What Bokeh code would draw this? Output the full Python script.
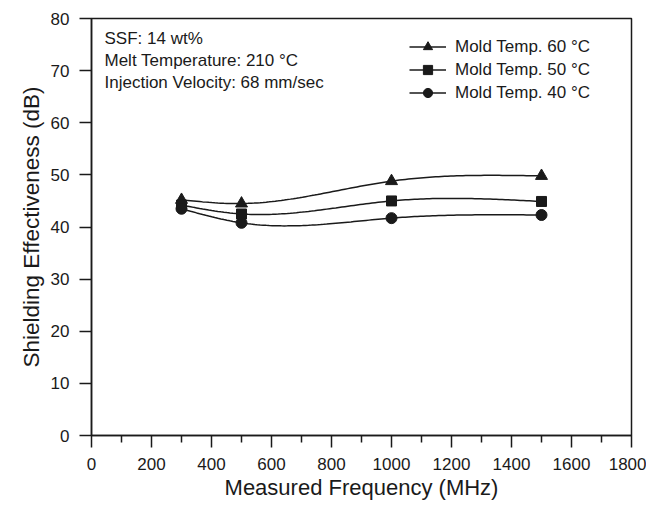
import numpy as np
from bokeh.plotting import figure
from bokeh.models import Label, Legend, LegendItem, FixedTicker, Range1d
from bokeh.embed import file_html
from bokeh.resources import INLINE

freq = [300, 500, 1000, 1500]
se_60 = [45.2, 44.5, 48.8, 49.8]
se_50 = [44.2, 42.5, 45.0, 44.9]
se_40 = [43.5, 40.8, 41.7, 42.3]
series_labels = ["Mold Temp. 60 °C", "Mold Temp. 50 °C", "Mold Temp. 40 °C"]
x_ticks = [0, 200, 400, 600, 800, 1000, 1200, 1400, 1600, 1800]
y_ticks = [0, 10, 20, 30, 40, 50, 60, 70, 80]
notes = ["SSF: 14 wt%", "Melt Temperature: 210 °C", "Injection Velocity: 68 mm/sec"]

FONT = "Liberation Sans"
INK = "#1a1a1a"


def natural_spline(x, y, n=120):
    x = np.asarray(x, float)
    y = np.asarray(y, float)
    k = len(x)
    h = np.diff(x)
    A = np.zeros((k, k))
    r = np.zeros(k)
    A[0, 0] = 1
    A[-1, -1] = 1
    for i in range(1, k - 1):
        A[i, i - 1] = h[i - 1]
        A[i, i] = 2 * (h[i - 1] + h[i])
        A[i, i + 1] = h[i]
        r[i] = 6 * ((y[i + 1] - y[i]) / h[i] - (y[i] - y[i - 1]) / h[i - 1])
    M = np.linalg.solve(A, r)
    xs = np.linspace(x[0], x[-1], n)
    ys = np.empty_like(xs)
    for j, xv in enumerate(xs):
        i = min(np.searchsorted(x, xv, side="right") - 1, k - 2)
        t0 = x[i + 1] - xv
        t1 = xv - x[i]
        ys[j] = (M[i] * t0 ** 3 + M[i + 1] * t1 ** 3) / (6 * h[i]) \
            + (y[i] / h[i] - M[i] * h[i] / 6) * t0 \
            + (y[i + 1] / h[i] - M[i + 1] * h[i] / 6) * t1
    return xs, ys


p = figure(width=646, height=502, output_backend="svg", toolbar_location=None,
           x_range=Range1d(0, 1800), y_range=Range1d(0, 80),
           min_border_left=91, min_border_right=15, min_border_top=18, min_border_bottom=64)
p.background_fill_color = "white"
p.border_fill_color = "white"
p.outline_line_color = INK
p.outline_line_width = 1.5
p.xgrid.visible = False
p.ygrid.visible = False

p.xaxis.ticker = FixedTicker(ticks=x_ticks, minor_ticks=list(range(100, 1800, 200)))
p.yaxis.ticker = FixedTicker(ticks=y_ticks)
for ax in (p.xaxis[0], p.yaxis[0]):
    ax.axis_line_color = INK
    ax.axis_line_width = 1.5
    ax.major_tick_line_color = INK
    ax.major_tick_line_width = 1.5
    ax.major_tick_in = 0
    ax.major_tick_out = 12
    ax.minor_tick_line_color = INK
    ax.minor_tick_line_width = 1.5
    ax.minor_tick_in = 0
    ax.minor_tick_out = 7
    ax.major_label_text_font = FONT
    ax.major_label_text_font_size = "17px"
    ax.major_label_text_color = INK
    ax.axis_label_text_font = FONT
    ax.axis_label_text_font_size = "22px"
    ax.axis_label_text_font_style = "normal"
    ax.axis_label_text_color = INK
p.yaxis.axis_label_text_font_size = "22.5px"
p.yaxis.minor_tick_line_color = None
p.xaxis.axis_label = "Measured Frequency (MHz)"
p.yaxis.axis_label = "Shielding Effectiveness (dB)"
p.xaxis.major_label_standoff = 10
p.yaxis.major_label_standoff = 10
p.xaxis.axis_label_standoff = 2
p.yaxis.axis_label_standoff = 4

items = []
for vals, marker, size, lab in [(se_60, "triangle", 12, series_labels[0]),
                                (se_50, "square", 10, series_labels[1]),
                                (se_40, "circle", 11, series_labels[2])]:
    xs, ys = natural_spline(freq, vals)
    ln = p.line(xs, ys, line_color=INK, line_width=1.5)
    sc = p.scatter(freq, vals, marker=marker, size=size, fill_color=INK, line_color=INK)
    items.append(LegendItem(label=lab, renderers=[ln, sc]))

legend = Legend(items=items, location=(318, 331))
legend.border_line_color = None
legend.background_fill_alpha = 0
legend.glyph_width = 37
legend.glyph_height = 23
legend.label_height = 23
legend.spacing = 0
legend.label_standoff = 9
legend.label_text_font = FONT
legend.label_text_font_size = "17px"
legend.label_text_color = INK
legend.padding = 4
p.add_layout(legend, "center")

for i, t in enumerate(notes):
    p.add_layout(Label(x=13, y=397 - i * 22, x_units="screen", y_units="screen", text=t,
                       text_font=FONT, text_font_size="17px", text_color=INK,
                       text_baseline="middle"))

open("out.html", "w").write(file_html(p, INLINE))
